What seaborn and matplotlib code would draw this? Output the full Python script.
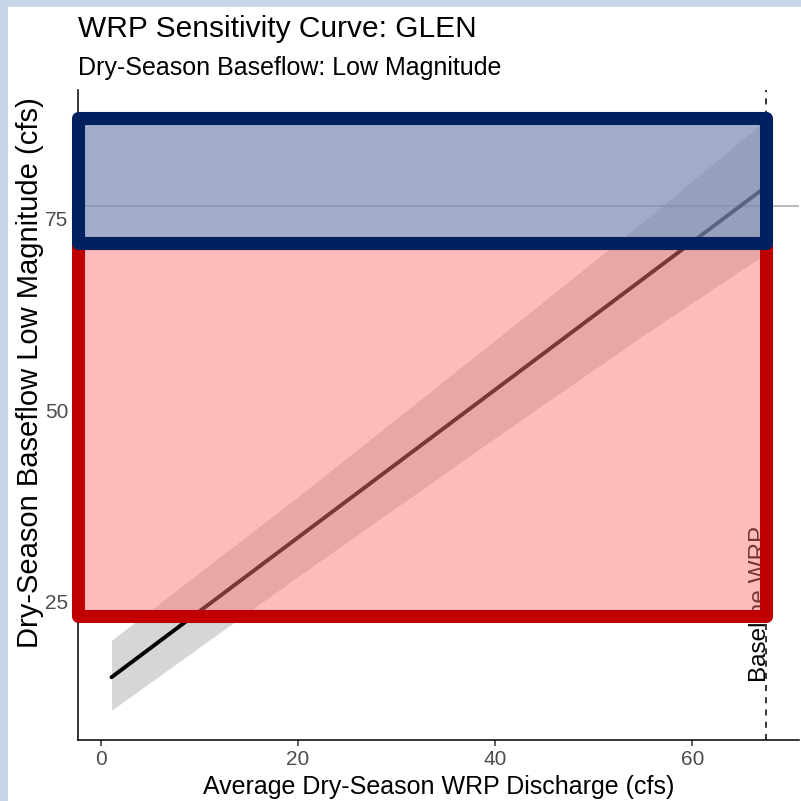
import matplotlib
matplotlib.use('Agg')
import matplotlib.pyplot as plt
import seaborn as sns
import numpy as np
import pandas as pd
from matplotlib.patches import Rectangle

# ---- data ----
line_x = [1.1, 67.5]
line_y = [15.2, 79.1]
band_x = [1.1, 20.2, 40.5, 55.0, 67.5]
band_upper = [20.0, 38.9, 59.6, 74.5, 87.8]
band_lower = [10.9, 28.5, 46.8, 59.7, 70.4]
baseline_wrp = 67.5
reference_flow = 76.5
red_zone = [23.2, 71.7]
blue_zone = [71.7, 88.0]
x_ticks = [0, 20, 40, 60]
y_ticks = [25, 50, 75]
title = "WRP Sensitivity Curve: GLEN"
subtitle = "Dry-Season Baseflow: Low Magnitude"
x_label = "Average Dry-Season WRP Discharge (cfs)"
y_label = "Dry-Season Baseflow Low Magnitude (cfs)"
baseline_label = "Baseline WRP"

sns.set_theme(style='ticks')
plt.rcParams['font.family'] = ['Liberation Sans', 'DejaVu Sans']

W = 801
fig = plt.figure(figsize=(8.01, 8.01), dpi=100)
fig.patch.set_facecolor('white')


def px(x0, y0, x1, y1):
    return [x0 / W, 1 - y1 / W, (x1 - x0) / W, (y1 - y0) / W]


# light blue frame of the screenshot
fig.patches.append(Rectangle((0, 1 - 7 / W), 1, 7 / W, transform=fig.transFigure,
                             facecolor='#C7D7E7', edgecolor='none', zorder=0))
fig.patches.append(Rectangle((0, 0), 8 / W, 1, transform=fig.transFigure,
                             facecolor='#C7D7E7', edgecolor='none', zorder=0))

ax = fig.add_axes(px(78, 90, 799, 740))
ax.set_xlim(-2.30, 70.82)
ax.set_ylim(7.03, 91.67)
ax.set_facecolor('white')

ax.axhline(reference_flow, color='#BDBDBD', lw=1.4, zorder=1)
ax.axvline(baseline_wrp, color='black', lw=1.1, ls=(0, (4, 4)), zorder=1)
ax.text(66.85, 14.6, baseline_label, rotation=90, ha='center', va='bottom',
        fontsize=17.5, color='black', zorder=1)

ax.fill_between(band_x, band_lower, band_upper, color='#999999', alpha=0.4,
                lw=0, zorder=2)
sns.lineplot(x=line_x, y=line_y, color='black', lw=2.8, ax=ax, zorder=3)

x0 = ax.get_xlim()[0]
wid = baseline_wrp - x0
ax.add_patch(Rectangle((x0, red_zone[0]), wid, red_zone[1] - red_zone[0],
                       facecolor=(1.0, 0.447, 0.447), alpha=0.48, lw=0, zorder=5))
ax.add_patch(Rectangle((x0, red_zone[0]), wid, red_zone[1] - red_zone[0],
                       fill=False, edgecolor='#C00000', lw=9.4, joinstyle='round',
                       clip_on=False, zorder=6))
ax.add_patch(Rectangle((x0, blue_zone[0]), wid, blue_zone[1] - blue_zone[0],
                       facecolor=(124 / 255, 140 / 255, 180 / 255), alpha=0.72, lw=0,
                       zorder=7))
ax.add_patch(Rectangle((x0, blue_zone[0]), wid, blue_zone[1] - blue_zone[0],
                       fill=False, edgecolor='#00205F', lw=9.4, joinstyle='round',
                       clip_on=False, zorder=8))

sns.despine(ax=ax)
for s in ['left', 'bottom']:
    ax.spines[s].set_linewidth(1.1)
    ax.spines[s].set_color('black')
ax.set_xticks(x_ticks)
ax.set_yticks(y_ticks)
ax.tick_params(axis='both', length=4, width=1.1, color='#333333',
               labelsize=15, labelcolor='#4D4D4D', pad=3)
ax.set_xlabel('')
ax.set_ylabel('')
ax.grid(False)

fig.text(78 / W, 1 - 37 / W, title, fontsize=21.5, color='black', va='baseline', ha='left')
fig.text(78 / W, 1 - 75 / W, subtitle, fontsize=18, color='black', va='baseline', ha='left')
fig.text(438.5 / W, 1 - 794 / W, x_label, fontsize=18, color='black', va='baseline', ha='center')
fig.text(30 / W, 1 - 373 / W, y_label, fontsize=21, color='black', va='center', ha='center',
         rotation=90)

fig.savefig('out.png', dpi=100)
